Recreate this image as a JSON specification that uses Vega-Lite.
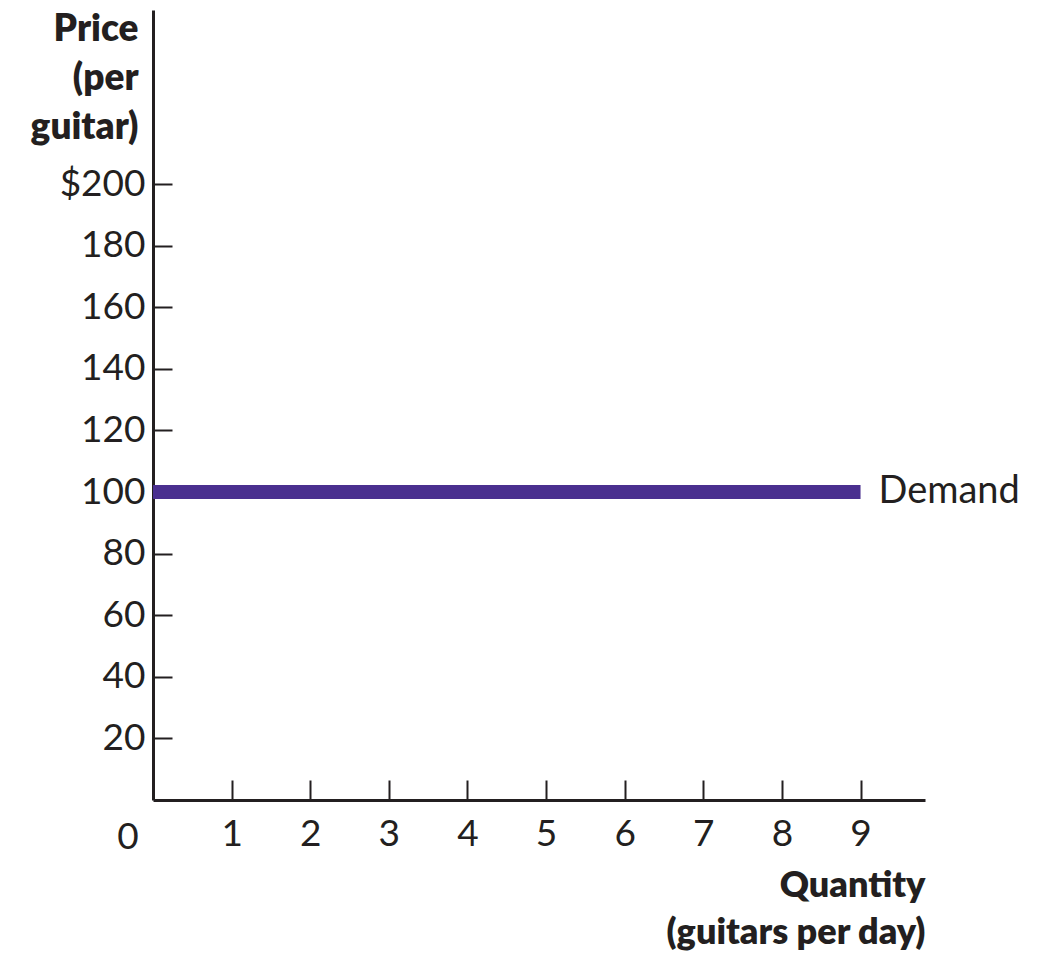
{
  "$schema": "https://vega.github.io/schema/vega-lite/v6.json",
  "width": 772,
  "height": 790,
  "autosize": {"type": "none"},
  "padding": {"left": 153, "top": 10, "right": 113, "bottom": 154},
  "background": "white",
  "config": {"view": {"stroke": null}, "font": "Lato"},
  "data": {"values": [
    {"q": 0, "p": 100, "series": "Demand"},
    {"q": 9, "p": 100, "series": "Demand"}
  ]},
  "layer": [
    {
      "mark": {"type": "line", "color": "#4a2f8f", "strokeWidth": 14, "strokeCap": "butt"},
      "encoding": {
        "x": {
          "field": "q", "type": "quantitative",
          "scale": {"domain": [0, 9.82], "nice": false, "zero": false},
          "axis": {
            "values": [1, 2, 3, 4, 5, 6, 7, 8, 9],
            "format": "d",
            "grid": false,
            "tickSize": -20, "tickWidth": 2, "tickColor": "#231f20",
            "domainWidth": 3, "domainColor": "#231f20",
            "labelFontSize": 37, "labelColor": "#231f20", "labelPadding": 36,
            "title": ["Quantity", "(guitars per day)"],
            "titleFontSize": 36, "titleFontWeight": 800, "titleColor": "#231f20",
            "titleAlign": "right", "titleBaseline": "alphabetic", "titleAnchor": "end",
            "titleX": 772, "titleY": 96, "titleLineHeight": 47
          }
        },
        "y": {
          "field": "p", "type": "quantitative",
          "scale": {"domain": [0, 256.5], "nice": false},
          "axis": {
            "values": [20, 40, 60, 80, 100, 120, 140, 160, 180, 200],
            "labelExpr": "datum.value == 200 ? '$200' : datum.label",
            "grid": false,
            "tickSize": -19, "tickWidth": 2, "tickColor": "#231f20",
            "domainWidth": 3, "domainColor": "#231f20",
            "labelFontSize": 37, "labelColor": "#231f20", "labelPadding": 27,
            "title": ["Price", "(per", "guitar)"],
            "titleFontSize": 37, "titleFontWeight": 800, "titleColor": "#231f20",
            "titleAngle": 0, "titleAlign": "right", "titleBaseline": "alphabetic",
            "titleX": -15, "titleY": 30, "titleLineHeight": 49
          }
        }
      }
    },
    {
      "transform": [{"filter": "datum.q == 9"}],
      "mark": {"type": "text", "align": "left", "baseline": "middle", "dx": 18, "fontSize": 38, "color": "#231f20"},
      "encoding": {
        "x": {"field": "q", "type": "quantitative"},
        "y": {"field": "p", "type": "quantitative"},
        "text": {"field": "series"}
      }
    },
    {
      "data": {"values": [{"q": 0, "p": 0, "label": "0"}]},
      "mark": {"type": "text", "align": "center", "baseline": "middle", "dx": -25, "dy": 38, "fontSize": 37, "color": "#231f20"},
      "encoding": {
        "x": {"field": "q", "type": "quantitative"},
        "y": {"field": "p", "type": "quantitative"},
        "text": {"field": "label"}
      }
    }
  ]
}
